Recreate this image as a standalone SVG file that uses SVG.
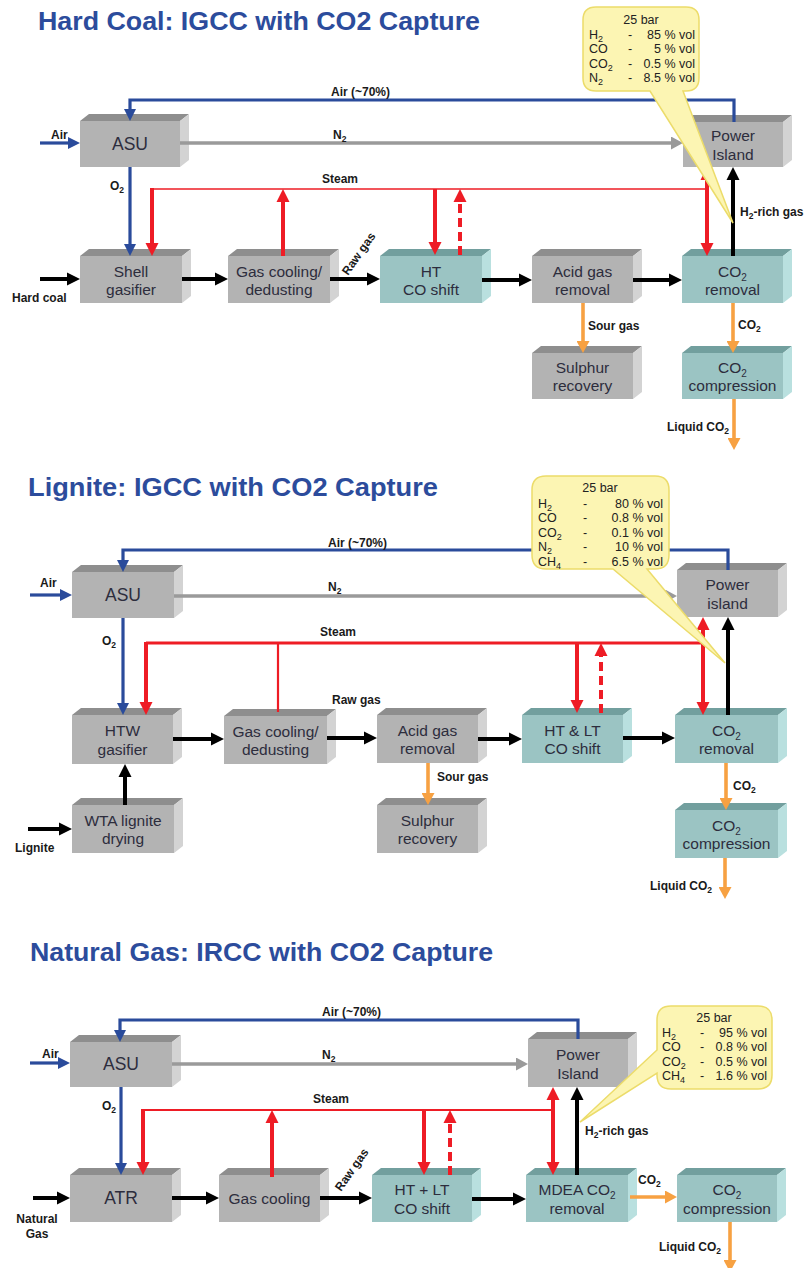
<svg xmlns="http://www.w3.org/2000/svg" width="804" height="1268" viewBox="0 0 804 1268">
<style>
.ti{font-family:"Liberation Sans",Arial,sans-serif;font-weight:bold;font-size:25px;fill:#2c4c9c}
.bt{font-family:"Liberation Sans",Arial,sans-serif;font-size:15.5px;fill:#2d2d3d;text-anchor:middle}
.big{font-size:17.5px}
.lb{font-family:"Liberation Sans",Arial,sans-serif;font-weight:bold;font-size:12px;fill:#1a1a1a}
.ct{font-family:"Liberation Sans",Arial,sans-serif;font-size:12.5px;fill:#222}
.end{text-anchor:end}
.mid{text-anchor:middle}
.g .f{fill:#b3b3b3}.g .t{fill:#8e8e8e}.g .s{fill:#d3d3d3}
.c .f{fill:#9bc4c3}.c .t{fill:#729f9e}.c .s{fill:#b9e0df}
line,path.cn{fill:none;stroke-linecap:butt;stroke-linejoin:miter}
.bk{stroke:#000;stroke-width:4}
.bl{stroke:#2a4b9b;stroke-width:3.2}
.gr{stroke:#9a9a9a;stroke-width:3.4}
.rd{stroke:#ee1c25;stroke-width:4}
.rt{stroke:#ee1c25;stroke-width:1.7}
.rm{stroke:#ee1c25;stroke-width:2.8}
.rs{stroke:#ee1c25;stroke-width:2.2}
.ds{stroke-dasharray:9,5}
.or{stroke:#f7a142;stroke-width:3.6}
.ak{marker-end:url(#hk)}.ab{marker-end:url(#hb)}.ag{marker-end:url(#hg)}.ar{marker-end:url(#hr)}.ao{marker-end:url(#ho)}
.co{fill:#fcf5b3;stroke:#ecdc6a;stroke-width:1.5}
</style>
<defs>
<marker id="hk" viewBox="0 -7 13 14" refX="1" refY="0" markerWidth="13" markerHeight="14" markerUnits="userSpaceOnUse" orient="auto"><path d="M0,-6.5 L13,0 L0,6.5 z" fill="#000"/></marker>
<marker id="hr" viewBox="0 -7 13 14" refX="1" refY="0" markerWidth="13" markerHeight="14" markerUnits="userSpaceOnUse" orient="auto"><path d="M0,-6.5 L13,0 L0,6.5 z" fill="#ee1c25"/></marker>
<marker id="hb" viewBox="0 -6 12 12" refX="1" refY="0" markerWidth="12" markerHeight="12" markerUnits="userSpaceOnUse" orient="auto"><path d="M0,-6 L12,0 L0,6 z" fill="#2a4b9b"/></marker>
<marker id="hg" viewBox="0 -6.5 12 13" refX="1" refY="0" markerWidth="12" markerHeight="13" markerUnits="userSpaceOnUse" orient="auto"><path d="M0,-6.5 L12,0 L0,6.5 z" fill="#9a9a9a"/></marker>
<marker id="ho" viewBox="0 -6.5 12 13" refX="1" refY="0" markerWidth="12" markerHeight="13" markerUnits="userSpaceOnUse" orient="auto"><path d="M0,-6.5 L12,0 L0,6.5 z" fill="#f7a142"/></marker>
</defs>
<rect width="804" height="1268" fill="#fff"/>

<g id="titles">
<text class="ti" x="38" y="30" textLength="442" lengthAdjust="spacingAndGlyphs">Hard Coal: IGCC with CO2 Capture</text>
<text class="ti" x="28" y="496" textLength="410" lengthAdjust="spacingAndGlyphs">Lignite: IGCC with CO2 Capture</text>
<text class="ti" x="30" y="961" textLength="463" lengthAdjust="spacingAndGlyphs">Natural Gas: IRCC with CO2 Capture</text>
</g>

<!-- ===== Section 1 nodes ===== -->
<g id="asu1" class="g"><polygon class="t" points="80,121 89,114 189,114 180,121"/><polygon class="s" points="180,121 189,114 189,160 180,167"/><rect class="f" x="80" y="121" width="100" height="46"/><text class="bt big" x="130" y="150">ASU</text></g>
<g id="power1" class="g"><polygon class="t" points="683,122 692,115 792,115 783,122"/><polygon class="s" points="783,122 792,115 792,160 783,167"/><rect class="f" x="683" y="122" width="100" height="45"/><text class="bt" x="733" y="141">Power</text><text class="bt" x="733" y="159.5">Island</text></g>
<g id="gasifier1" class="g"><polygon class="t" points="80,256 89,249 191,249 182,256"/><polygon class="s" points="182,256 191,249 191,296 182,303"/><rect class="f" x="80" y="256" width="102" height="47"/><text class="bt" x="131" y="276.5">Shell</text><text class="bt" x="131" y="295">gasifier</text></g>
<g id="cooling1" class="g"><polygon class="t" points="228,256 237,249 339,249 330,256"/><polygon class="s" points="330,256 339,249 339,296 330,303"/><rect class="f" x="228" y="256" width="102" height="47"/><text class="bt" x="279" y="276.5">Gas cooling/</text><text class="bt" x="279" y="295">dedusting</text></g>
<g id="shift1" class="c"><polygon class="t" points="380,256 389,249 491,249 482,256"/><polygon class="s" points="482,256 491,249 491,296 482,303"/><rect class="f" x="380" y="256" width="102" height="47"/><text class="bt" x="431" y="276.5">HT</text><text class="bt" x="431" y="295">CO shift</text></g>
<g id="acid1" class="g"><polygon class="t" points="532,256 541,249 642,249 633,256"/><polygon class="s" points="633,256 642,249 642,296 633,303"/><rect class="f" x="532" y="256" width="101" height="47"/><text class="bt" x="582.5" y="276.5">Acid gas</text><text class="bt" x="582.5" y="295">removal</text></g>
<g id="co2rem1" class="c"><polygon class="t" points="682,256 691,249 792,249 783,256"/><polygon class="s" points="783,256 792,249 792,296 783,303"/><rect class="f" x="682" y="256" width="101" height="47"/><text class="bt" x="732.5" y="276.5">CO<tspan font-size="10" dy="4">2</tspan></text><text class="bt" x="732.5" y="295">removal</text></g>
<g id="sulphur1" class="g"><polygon class="t" points="532,353 541,346 642,346 633,353"/><polygon class="s" points="633,353 642,346 642,392 633,399"/><rect class="f" x="532" y="353" width="101" height="46"/><text class="bt" x="582.5" y="372.5">Sulphur</text><text class="bt" x="582.5" y="391">recovery</text></g>
<g id="comp1" class="c"><polygon class="t" points="682,353 691,346 792,346 783,353"/><polygon class="s" points="783,353 792,346 792,392 783,399"/><rect class="f" x="682" y="353" width="101" height="46"/><text class="bt" x="732.5" y="372.5">CO<tspan font-size="10" dy="4">2</tspan></text><text class="bt" x="732.5" y="391">compression</text></g>

<!-- ===== Section 2 nodes ===== -->
<g id="asu2" class="g"><polygon class="t" points="72,572 81,565 183,565 174,572"/><polygon class="s" points="174,572 183,565 183,611 174,618"/><rect class="f" x="72" y="572" width="102" height="46"/><text class="bt big" x="123" y="601">ASU</text></g>
<g id="power2" class="g"><polygon class="t" points="677,570 686,563 787,563 778,570"/><polygon class="s" points="778,570 787,563 787,610 778,617"/><rect class="f" x="677" y="570" width="101" height="47"/><text class="bt" x="727.5" y="590">Power</text><text class="bt" x="727.5" y="608.5">island</text></g>
<g id="gasifier2" class="g"><polygon class="t" points="72,715 81,708 182,708 173,715"/><polygon class="s" points="173,715 182,708 182,757 173,764"/><rect class="f" x="72" y="715" width="101" height="49"/><text class="bt" x="122.5" y="736">HTW</text><text class="bt" x="122.5" y="754.5">gasifier</text></g>
<g id="cooling2" class="g"><polygon class="t" points="224,716 233,709 336,709 327,716"/><polygon class="s" points="327,716 336,709 336,757 327,764"/><rect class="f" x="224" y="716" width="103" height="48"/><text class="bt" x="275.5" y="736.5">Gas cooling/</text><text class="bt" x="275.5" y="755">dedusting</text></g>
<g id="acid2" class="g"><polygon class="t" points="377,715 386,708 487,708 478,715"/><polygon class="s" points="478,715 487,708 487,756 478,763"/><rect class="f" x="377" y="715" width="101" height="48"/><text class="bt" x="427.5" y="735.5">Acid gas</text><text class="bt" x="427.5" y="754">removal</text></g>
<g id="shift2" class="c"><polygon class="t" points="522,715 531,708 632,708 623,715"/><polygon class="s" points="623,715 632,708 632,756 623,763"/><rect class="f" x="522" y="715" width="101" height="48"/><text class="bt" x="572.5" y="735.5">HT &amp; LT</text><text class="bt" x="572.5" y="754">CO shift</text></g>
<g id="co2rem2" class="c"><polygon class="t" points="675,715 684,708 787,708 778,715"/><polygon class="s" points="778,715 787,708 787,756 778,763"/><rect class="f" x="675" y="715" width="103" height="48"/><text class="bt" x="726.5" y="735.5">CO<tspan font-size="10" dy="4">2</tspan></text><text class="bt" x="726.5" y="754">removal</text></g>
<g id="sulphur2" class="g"><polygon class="t" points="377,805 386,798 487,798 478,805"/><polygon class="s" points="478,805 487,798 487,846 478,853"/><rect class="f" x="377" y="805" width="101" height="48"/><text class="bt" x="427.5" y="825.5">Sulphur</text><text class="bt" x="427.5" y="844">recovery</text></g>
<g id="comp2" class="c"><polygon class="t" points="675,810 684,803 787,803 778,810"/><polygon class="s" points="778,810 787,803 787,851 778,858"/><rect class="f" x="675" y="810" width="103" height="48"/><text class="bt" x="726.5" y="830.5">CO<tspan font-size="10" dy="4">2</tspan></text><text class="bt" x="726.5" y="849">compression</text></g>
<g id="drying2" class="g"><polygon class="t" points="72,805 81,798 183,798 174,805"/><polygon class="s" points="174,805 183,798 183,846 174,853"/><rect class="f" x="72" y="805" width="102" height="48"/><text class="bt" x="123" y="825.5">WTA lignite</text><text class="bt" x="123" y="844">drying</text></g>

<!-- ===== Section 3 nodes ===== -->
<g id="asu3" class="g"><polygon class="t" points="70,1042 79,1035 181,1035 172,1042"/><polygon class="s" points="172,1042 181,1035 181,1080 172,1087"/><rect class="f" x="70" y="1042" width="102" height="45"/><text class="bt big" x="121" y="1070">ASU</text></g>
<g id="power3" class="g"><polygon class="t" points="528,1039 537,1032 637,1032 628,1039"/><polygon class="s" points="628,1039 637,1032 637,1080 628,1087"/><rect class="f" x="528" y="1039" width="100" height="48"/><text class="bt" x="578" y="1060">Power</text><text class="bt" x="578" y="1078.5">Island</text></g>
<g id="atr3" class="g"><polygon class="t" points="70,1175 79,1168 181,1168 172,1175"/><polygon class="s" points="172,1175 181,1168 181,1215 172,1222"/><rect class="f" x="70" y="1175" width="102" height="47"/><text class="bt big" x="121" y="1204">ATR</text></g>
<g id="cooling3" class="g"><polygon class="t" points="219,1175 228,1168 329,1168 320,1175"/><polygon class="s" points="320,1175 329,1168 329,1215 320,1222"/><rect class="f" x="219" y="1175" width="101" height="47"/><text class="bt" x="269.5" y="1204">Gas cooling</text></g>
<g id="shift3" class="c"><polygon class="t" points="372,1175 381,1168 481,1168 472,1175"/><polygon class="s" points="472,1175 481,1168 481,1215 472,1222"/><rect class="f" x="372" y="1175" width="100" height="47"/><text class="bt" x="422" y="1195">HT + LT</text><text class="bt" x="422" y="1213.5">CO shift</text></g>
<g id="mdea3" class="c"><polygon class="t" points="526,1175 535,1168 637,1168 628,1175"/><polygon class="s" points="628,1175 637,1168 637,1215 628,1222"/><rect class="f" x="526" y="1175" width="102" height="47"/><text class="bt" x="577" y="1195">MDEA CO<tspan font-size="10" dy="4">2</tspan></text><text class="bt" x="577" y="1213.5">removal</text></g>
<g id="comp3" class="c"><polygon class="t" points="677,1175 686,1168 786,1168 777,1175"/><polygon class="s" points="777,1175 786,1168 786,1215 777,1222"/><rect class="f" x="677" y="1175" width="100" height="47"/><text class="bt" x="727" y="1195">CO<tspan font-size="10" dy="4">2</tspan></text><text class="bt" x="727" y="1213.5">compression</text></g>

<!-- ===== Connectors ===== -->
<g id="connectors">
<!-- section 1 -->
<line class="bl ab" x1="40" y1="143" x2="69" y2="143"/>
<path class="cn bl ab" d="M734,122 V100 H130 V110"/>
<line class="gr ag" x1="180" y1="143" x2="672" y2="143"/>
<line class="bl ab" x1="130" y1="167" x2="130" y2="245"/>
<path class="cn rt" d="M152,189 H707"/>
<line class="rd ar" x1="152" y1="188" x2="152" y2="244"/>
<line class="rd ar" x1="283" y1="256" x2="283" y2="201"/>
<line class="rd ar" x1="435" y1="189" x2="435" y2="243"/>
<line class="rd ds ar" x1="460" y1="255" x2="460" y2="201"/>
<line class="rd ar" x1="707" y1="188" x2="707" y2="244"/>
<line class="rd ar" x1="707" y1="190" x2="707" y2="179"/>
<line class="bk ak" x1="733" y1="256" x2="733" y2="179"/>
<line class="bk ak" x1="40" y1="279" x2="68" y2="279"/>
<line class="bk ak" x1="182" y1="279" x2="216" y2="279"/>
<line class="bk ak" x1="330" y1="279" x2="368" y2="279"/>
<line class="bk ak" x1="482" y1="280" x2="520" y2="280"/>
<line class="bk ak" x1="633" y1="280" x2="670" y2="280"/>
<line class="or ao" x1="583" y1="303" x2="583" y2="342"/>
<line class="or ao" x1="733" y1="303" x2="733" y2="342"/>
<line class="or ao" x1="734" y1="399" x2="734" y2="439"/>
<!-- section 2 -->
<line class="bl ab" x1="30" y1="595" x2="61" y2="595"/>
<path class="cn bl ab" d="M728,570 V550 H123 V561"/>
<line class="gr ag" x1="174" y1="596" x2="666" y2="596"/>
<line class="bl ab" x1="123" y1="618" x2="123" y2="704"/>
<path class="cn rm" d="M146,643 H703"/>
<line class="rd ar" x1="146" y1="642" x2="146" y2="703"/>
<line class="rs" x1="278" y1="643" x2="278" y2="712"/>
<line class="rd ar" x1="577" y1="643" x2="577" y2="701"/>
<line class="rd ds ar" x1="601" y1="713" x2="601" y2="655"/>
<line class="rd ar" x1="703" y1="645" x2="703" y2="629"/>
<line class="rd ar" x1="703" y1="641" x2="703" y2="703"/>
<line class="bk ak" x1="728" y1="715" x2="728" y2="629"/>
<line class="bk ak" x1="173" y1="739" x2="212" y2="739"/>
<line class="bk ak" x1="327" y1="738" x2="365" y2="738"/>
<line class="bk ak" x1="478" y1="739" x2="510" y2="739"/>
<line class="bk ak" x1="623" y1="738" x2="663" y2="738"/>
<line class="bk ak" x1="125" y1="805" x2="125" y2="776"/>
<line class="bk ak" x1="28" y1="829" x2="60" y2="829"/>
<line class="or ao" x1="428" y1="763" x2="428" y2="794"/>
<line class="or ao" x1="726" y1="763" x2="726" y2="799"/>
<line class="or ao" x1="725" y1="858" x2="725" y2="888"/>
<!-- section 3 -->
<line class="bl ab" x1="30" y1="1063" x2="59" y2="1063"/>
<path class="cn bl ab" d="M578,1039 V1020 H120 V1031"/>
<line class="gr ag" x1="172" y1="1064" x2="517" y2="1064"/>
<line class="bl ab" x1="121" y1="1087" x2="121" y2="1164"/>
<path class="cn rs" d="M143,1110 H553"/>
<line class="rd ar" x1="143" y1="1109" x2="143" y2="1163"/>
<line class="rd ar" x1="272" y1="1177" x2="272" y2="1122"/>
<line class="rd ar" x1="424" y1="1110" x2="424" y2="1163"/>
<line class="rd ds ar" x1="450" y1="1175" x2="450" y2="1122"/>
<line class="rd ar" x1="553" y1="1112" x2="553" y2="1099"/>
<line class="rd ar" x1="553" y1="1108" x2="553" y2="1163"/>
<line class="bk ak" x1="577" y1="1175" x2="577" y2="1099"/>
<line class="bk ak" x1="33" y1="1198" x2="58" y2="1198"/>
<line class="bk ak" x1="172" y1="1198" x2="207" y2="1198"/>
<line class="bk ak" x1="320" y1="1198" x2="360" y2="1198"/>
<line class="bk ak" x1="472" y1="1199" x2="514" y2="1199"/>
<line class="or ao" x1="630" y1="1197" x2="666" y2="1197"/>
<line class="or ao" x1="730" y1="1222" x2="730" y2="1261"/>
</g>

<g id="labels">
<!-- section 1 -->
<text class="lb" x="51" y="139">Air</text>
<text class="lb" x="331" y="96">Air (~70%)</text>
<text class="lb" x="333" y="139">N<tspan font-size="8.5" dy="3">2</tspan></text>
<text class="lb" x="110" y="190">O<tspan font-size="8.5" dy="3">2</tspan></text>
<text class="lb" x="322" y="183">Steam</text>
<text class="lb" x="12" y="302">Hard coal</text>
<text class="lb mid" transform="translate(362,256) rotate(-55)">Raw gas</text>
<text class="lb" x="588" y="330">Sour gas</text>
<text class="lb" x="738" y="329">CO<tspan font-size="8.5" dy="3">2</tspan></text>
<text class="lb" x="740" y="216">H<tspan font-size="8.5" dy="3">2</tspan><tspan dy="-3">-rich gas</tspan></text>
<text class="lb" x="667" y="431">Liquid CO<tspan font-size="8.5" dy="3">2</tspan></text>
<!-- section 2 -->
<text class="lb" x="40" y="587">Air</text>
<text class="lb" x="328" y="547">Air (~70%)</text>
<text class="lb" x="328" y="591">N<tspan font-size="8.5" dy="3">2</tspan></text>
<text class="lb" x="102" y="645">O<tspan font-size="8.5" dy="3">2</tspan></text>
<text class="lb" x="320" y="636">Steam</text>
<text class="lb" x="332" y="704">Raw gas</text>
<text class="lb" x="15" y="852">Lignite</text>
<text class="lb" x="437" y="781">Sour gas</text>
<text class="lb" x="733" y="790">CO<tspan font-size="8.5" dy="3">2</tspan></text>
<text class="lb" x="650" y="890">Liquid CO<tspan font-size="8.5" dy="3">2</tspan></text>
<!-- section 3 -->
<text class="lb" x="42" y="1058">Air</text>
<text class="lb" x="322" y="1016">Air (~70%)</text>
<text class="lb" x="322" y="1059">N<tspan font-size="8.5" dy="3">2</tspan></text>
<text class="lb" x="102" y="1110">O<tspan font-size="8.5" dy="3">2</tspan></text>
<text class="lb" x="313" y="1103">Steam</text>
<text class="lb mid" transform="translate(355,1172) rotate(-55)">Raw gas</text>
<text class="lb mid" x="37" y="1223">Natural</text>
<text class="lb mid" x="37" y="1238">Gas</text>
<text class="lb" x="585" y="1135">H<tspan font-size="8.5" dy="3">2</tspan><tspan dy="-3">-rich gas</tspan></text>
<text class="lb" x="638" y="1184">CO<tspan font-size="8.5" dy="3">2</tspan></text>
<text class="lb" x="659" y="1251">Liquid CO<tspan font-size="8.5" dy="3">2</tspan></text>
</g>

<!-- ===== Callouts ===== -->
<g id="callout1">
<path class="co" d="M596,7 H686 Q699,7 699,20 V78 Q699,91 686,91 H683 L733,223 L650,91 H596 Q583,91 583,78 V20 Q583,7 596,7 Z"/>
<text class="ct mid" x="641" y="24">25 bar</text>
<text class="ct" x="589" y="38.5">H<tspan font-size="9" dy="3">2</tspan></text><text class="ct" x="628" y="38.5">-</text><text class="ct end" x="695" y="38.5">85 % vol</text>
<text class="ct" x="589" y="53">CO</text><text class="ct" x="628" y="53">-</text><text class="ct end" x="695" y="53">5 % vol</text>
<text class="ct" x="589" y="67.5">CO<tspan font-size="9" dy="3">2</tspan></text><text class="ct" x="628" y="67.5">-</text><text class="ct end" x="695" y="67.5">0.5 % vol</text>
<text class="ct" x="589" y="82">N<tspan font-size="9" dy="3">2</tspan></text><text class="ct" x="628" y="82">-</text><text class="ct end" x="695" y="82">8.5 % vol</text>
</g>
<g id="callout2">
<path class="co" d="M546,476 H655 Q669,476 669,490 V555 Q669,569 655,569 H647 L725,663 L613,569 H546 Q532,569 532,555 V490 Q532,476 546,476 Z"/>
<text class="ct mid" x="600" y="492">25 bar</text>
<text class="ct" x="538" y="507.5">H<tspan font-size="9" dy="3">2</tspan></text><text class="ct" x="583" y="507.5">-</text><text class="ct end" x="663" y="507.5">80 % vol</text>
<text class="ct" x="538" y="522">CO</text><text class="ct" x="583" y="522">-</text><text class="ct end" x="663" y="522">0.8 % vol</text>
<text class="ct" x="538" y="536.5">CO<tspan font-size="9" dy="3">2</tspan></text><text class="ct" x="583" y="536.5">-</text><text class="ct end" x="663" y="536.5">0.1 % vol</text>
<text class="ct" x="538" y="551">N<tspan font-size="9" dy="3">2</tspan></text><text class="ct" x="583" y="551">-</text><text class="ct end" x="663" y="551">10 % vol</text>
<text class="ct" x="538" y="565.5">CH<tspan font-size="9" dy="3">4</tspan></text><text class="ct" x="583" y="565.5">-</text><text class="ct end" x="663" y="565.5">6.5 % vol</text>
</g>
<g id="callout3">
<path class="co" d="M671,1006 H758 Q772,1006 772,1020 V1075 Q772,1089 758,1089 H671 Q657,1089 657,1075 V1073 L580,1122 L657,1050 V1020 Q657,1006 671,1006 Z"/>
<text class="ct mid" x="714" y="1022">25 bar</text>
<text class="ct" x="662" y="1037">H<tspan font-size="9" dy="3">2</tspan></text><text class="ct" x="700" y="1037">-</text><text class="ct end" x="767" y="1037">95 % vol</text>
<text class="ct" x="662" y="1051">CO</text><text class="ct" x="700" y="1051">-</text><text class="ct end" x="767" y="1051">0.8 % vol</text>
<text class="ct" x="662" y="1065.5">CO<tspan font-size="9" dy="3">2</tspan></text><text class="ct" x="700" y="1065.5">-</text><text class="ct end" x="767" y="1065.5">0.5 % vol</text>
<text class="ct" x="662" y="1080">CH<tspan font-size="9" dy="3">4</tspan></text><text class="ct" x="700" y="1080">-</text><text class="ct end" x="767" y="1080">1.6 % vol</text>
</g>
</svg>
